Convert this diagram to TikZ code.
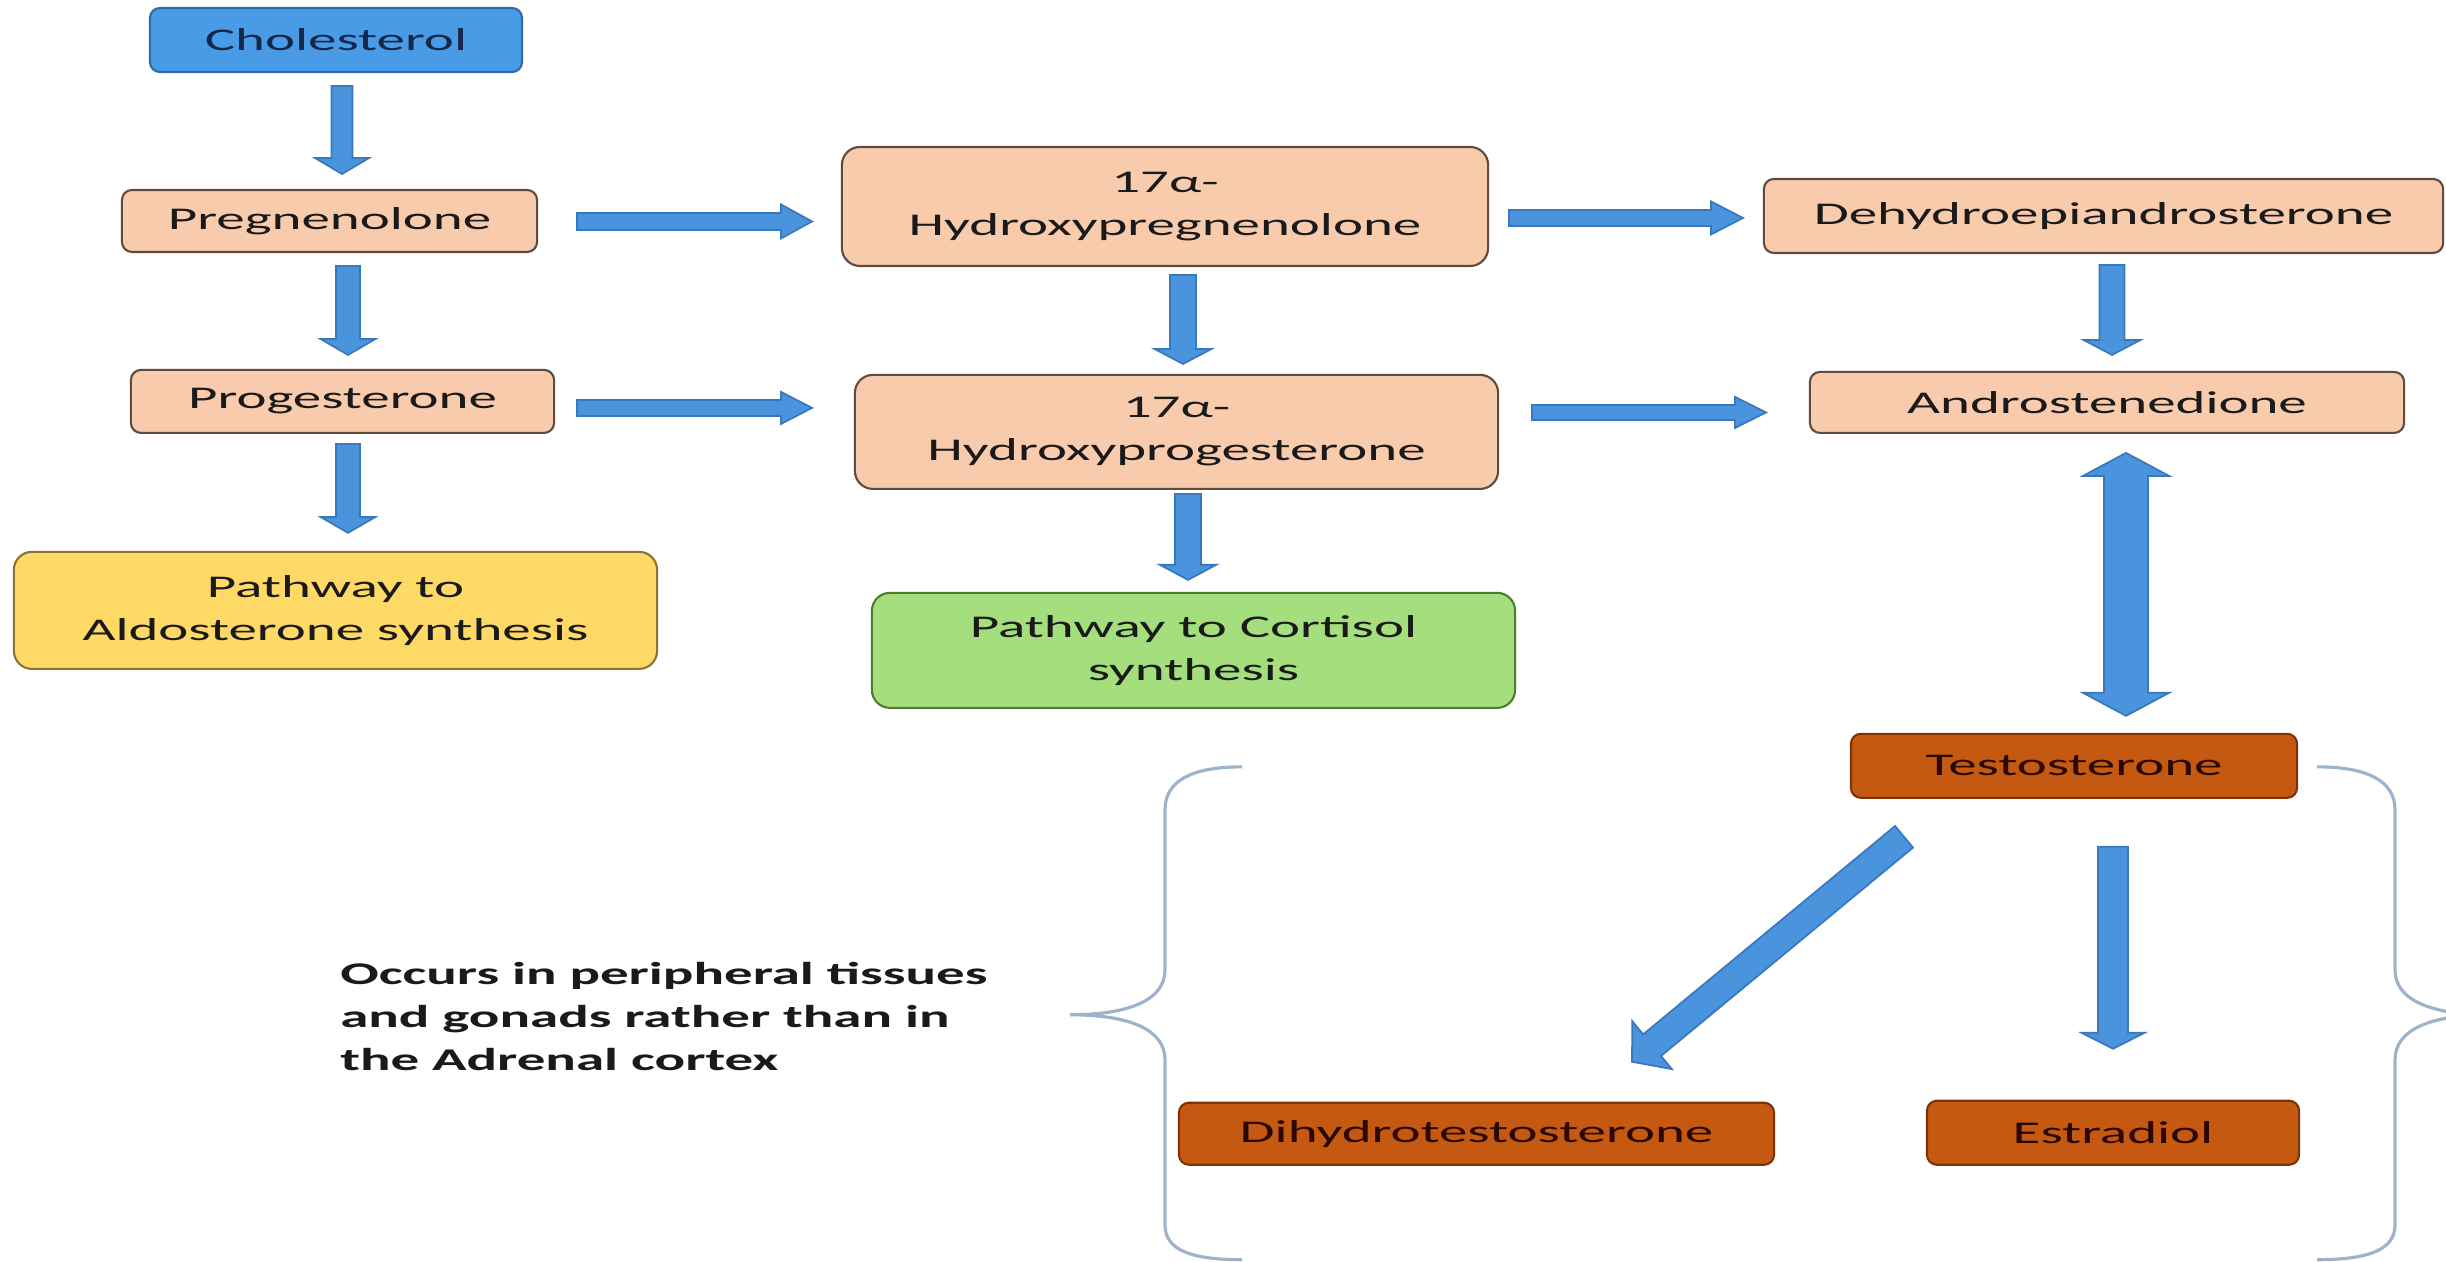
\documentclass[tikz,border=0pt]{standalone}
\usepackage{fontspec}
\setmainfont{Carlito}
\usetikzlibrary{calc}
\definecolor{peach}{HTML}{F8CBAD}
\definecolor{peachline}{HTML}{5F4B3F}
\definecolor{cholblue}{HTML}{4A9BE5}
\definecolor{cholline}{HTML}{2E69A8}
\definecolor{cholt}{HTML}{14284B}
\definecolor{aldoy}{HTML}{FFD966}
\definecolor{aldoline}{HTML}{8A7433}
\definecolor{cortg}{HTML}{A5DE7C}
\definecolor{cortline}{HTML}{4E7D30}
\definecolor{rust}{HTML}{C65911}
\definecolor{rustline}{HTML}{7A3408}
\definecolor{rustt}{HTML}{2A0800}
\definecolor{arrowblue}{HTML}{4A94DE}
\definecolor{arrowline}{HTML}{3A78BD}
\definecolor{bracec}{HTML}{9DB3CB}
\definecolor{txt}{HTML}{1A1A1A}

\newcommand\blockarrow[5]{%
  \coordinate (bah) at ($(#2)!#5!(#1)$);
  \filldraw[blockstyle] ($(#1)!#3!90:(#2)$) -- ($(bah)!#3!90:(#2)$) -- ($(bah)!#4!90:(#2)$) -- (#2) -- ($(bah)!#4!-90:(#2)$) -- ($(bah)!#3!-90:(#2)$) -- ($(#1)!#3!-90:(#2)$) -- cycle;}
\newcommand\blockdarrow[5]{%
  \coordinate (bhone) at ($(#1)!#5!(#2)$);
  \coordinate (bhtwo) at ($(#2)!#5!(#1)$);
  \filldraw[blockstyle] (#1) -- ($(bhone)!#4!90:(#2)$) -- ($(bhone)!#3!90:(#2)$) -- ($(bhtwo)!#3!90:(#2)$) -- ($(bhtwo)!#4!90:(#2)$) -- (#2) -- ($(bhtwo)!#4!-90:(#2)$) -- ($(bhtwo)!#3!-90:(#2)$) -- ($(bhone)!#3!-90:(#2)$) -- ($(bhone)!#4!-90:(#2)$) -- cycle;}

\begin{document}
\begin{tikzpicture}[x=0.0055556cm, y=-0.01cm, xscale=1.8, transform shape,
  box/.style={draw, line width=0.6pt, rounded corners=0.1cm, inner sep=0pt, align=center,
    font=\fontsize{9}{12.2}\selectfont, text=txt},
  bigbox/.style={box, rounded corners=0.18cm},
  sz/.style 2 args={minimum width={#1/180*1cm}, minimum height={#2/100*1cm}},
  peachbox/.style={fill=peach, draw=peachline},
  rustbox/.style={fill=rust, draw=rustline, text=rustt},
  blockstyle/.style={fill=arrowblue, draw=arrowline, line width=0.5pt, line join=miter},
  bracestyle/.style={draw=bracec, line width=0.9pt}]

\fill[white] (0,0) rectangle (2446,1262);
\useasboundingbox (0,0) rectangle (2446,1262);

% boxes
\node[box, sz={372}{64}, fill=cholblue, draw=cholline, text=cholt] (chol) at (336,40) {Cholesterol};
\node[box, peachbox, sz={415}{62}] (preg) at (329.5,221) {Pregnenolone};
\node[box, peachbox, sz={423}{63}] (prog) at (342.5,401.5) {Progesterone};
\node[bigbox, sz={643}{117}, fill=aldoy, draw=aldoline] (aldo) at (335.5,610.5) {Pathway to\\Aldosterone synthesis};
\node[bigbox, peachbox, sz={646}{119}] (ohpreg) at (1165,206.5) {17α-\\Hydroxypregnenolone};
\node[bigbox, peachbox, sz={643}{114}] (ohprog) at (1176.5,432) {17α-\\Hydroxyprogesterone};
\node[bigbox, sz={643}{115}, fill=cortg, draw=cortline] (cort) at (1193.5,650.5) {Pathway to Cortisol\\synthesis};
\node[box, peachbox, sz={679}{74}] (dhea) at (2103.5,216) {Dehydroepiandrosterone};
\node[box, peachbox, sz={594}{61}] (andro) at (2107,402.5) {Androstenedione};
\node[box, rustbox, sz={446}{64}] (testo) at (2074,766) {Testosterone};
\node[box, rustbox, sz={595}{62}] (dht) at (1476.5,1134) {Dihydrotestosterone};
\node[box, rustbox, sz={372}{64}] (e2) at (2113,1133) {Estradiol};

\node[font=\fontsize{9}{12.2}\selectfont\bfseries, text=txt, align=left, anchor=north west, inner sep=0pt] (note) at (339,962)
  {Occurs in peripheral tissues\\and gonads rather than in\\the Adrenal cortex};

% arrow end points
\coordinate (a1s) at (342,86);    \coordinate (a1e) at (342,174);
\coordinate (a2s) at (577,221.5); \coordinate (a2e) at (812,221.5);
\coordinate (a3s) at (1509,218);  \coordinate (a3e) at (1743,218);
\coordinate (a4s) at (348,266);   \coordinate (a4e) at (348,355);
\coordinate (a5s) at (577,408);   \coordinate (a5e) at (812,408);
\coordinate (a6s) at (348,444);   \coordinate (a6e) at (348,533);
\coordinate (a7s) at (1183,275);  \coordinate (a7e) at (1183,364);
\coordinate (a8s) at (1532,412.5);\coordinate (a8e) at (1766,412.5);
\coordinate (a9s) at (2112,265);  \coordinate (a9e) at (2112,355);
\coordinate (a10s) at (1188,494); \coordinate (a10e) at (1188,580);
\coordinate (a11s) at (2126,453); \coordinate (a11e) at (2126,716);
\coordinate (a12s) at (1904,837); \coordinate (a12e) at (1632,1062);
\coordinate (a13s) at (2113,847); \coordinate (a13e) at (2113,1049);

\begin{scope}[xscale=0.5555556]
\blockarrow{a1s}{a1e}{0.105cm}{0.27cm}{0.16cm}
\blockarrow{a2s}{a2e}{0.085cm}{0.17cm}{0.31cm}
\blockarrow{a3s}{a3e}{0.08cm}{0.165cm}{0.32cm}
\blockarrow{a4s}{a4e}{0.12cm}{0.275cm}{0.16cm}
\blockarrow{a5s}{a5e}{0.08cm}{0.16cm}{0.31cm}
\blockarrow{a6s}{a6e}{0.12cm}{0.275cm}{0.16cm}
\blockarrow{a7s}{a7e}{0.13cm}{0.285cm}{0.15cm}
\blockarrow{a8s}{a8e}{0.075cm}{0.155cm}{0.31cm}
\blockarrow{a9s}{a9e}{0.125cm}{0.285cm}{0.15cm}
\blockarrow{a10s}{a10e}{0.13cm}{0.28cm}{0.15cm}
\blockdarrow{a11s}{a11e}{0.22cm}{0.43cm}{0.23cm}
\blockarrow{a12s}{a12e}{0.14cm}{0.31cm}{0.26cm}
\blockarrow{a13s}{a13e}{0.15cm}{0.315cm}{0.16cm}
\end{scope}

% braces
\draw[bracestyle] (1242,767) .. controls (1190,767) and (1165,782) .. (1165,810)
  -- (1165,970) .. controls (1165,1000) and (1130,1015) .. (1070,1015)
  .. controls (1130,1015) and (1165,1030) .. (1165,1060)
  -- (1165,1225) .. controls (1165,1250) and (1190,1260) .. (1242,1260);
\draw[bracestyle] (2317,767) .. controls (2369,767) and (2395,782) .. (2395,810)
  -- (2395,970) .. controls (2395,1000) and (2430,1015) .. (2490,1015)
  .. controls (2430,1015) and (2395,1030) .. (2395,1060)
  -- (2395,1225) .. controls (2395,1250) and (2369,1260) .. (2317,1260);
\end{tikzpicture}
\end{document}
